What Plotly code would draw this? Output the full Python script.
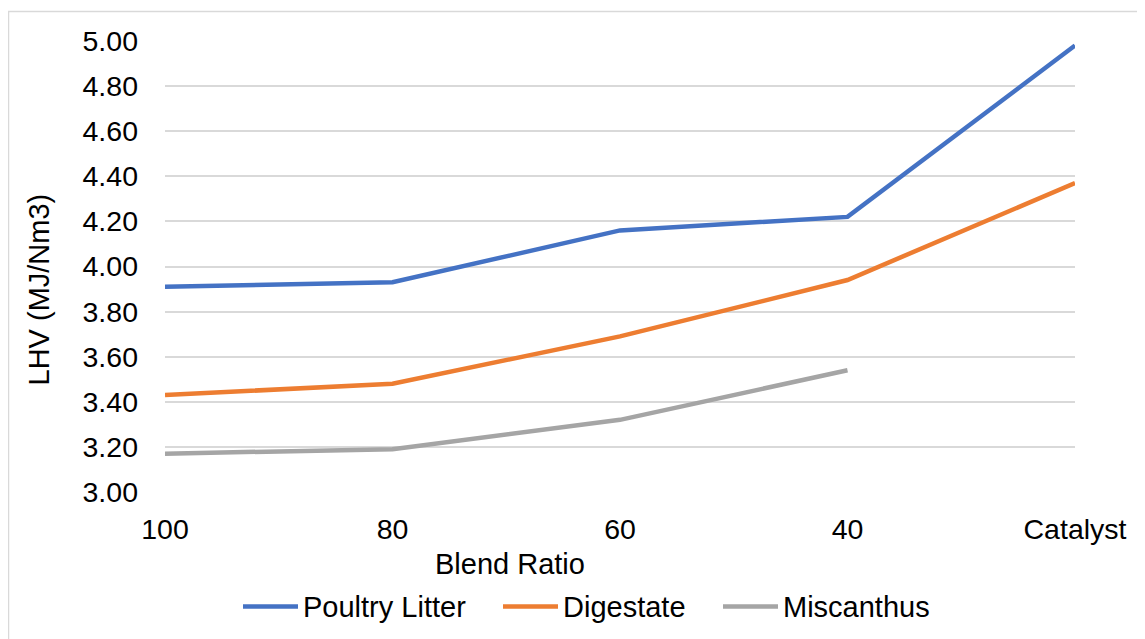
import plotly.graph_objects as go

categories = ["100", "80", "60", "40", "Catalyst"]
poultry_litter = [3.91, 3.93, 4.16, 4.22, 4.98]
digestate = [3.43, 3.48, 3.69, 3.94, 4.37]
miscanthus = [3.17, 3.19, 3.32, 3.54, None]

series = [
    ("Poultry Litter", poultry_litter, "#4472C4"),
    ("Digestate", digestate, "#ED7D31"),
    ("Miscanthus", miscanthus, "#A5A5A5"),
]

# page body has an 8px margin; figure sized to fit the window
OFF = 8
W, H = 1145 - OFF, 639 - OFF
# plot-area edges in screenshot pixels
L, R, T, B = 165, 1075, 41, 492
pw, ph = R - L, B - T

def px_x(p):
    return (p - L) / pw

def px_y(p):
    return (B - p) / ph

FONT = "Arial, Liberation Sans, sans-serif"
TXT = "#000000"

fig = go.Figure()
for name, vals, col in series:
    fig.add_trace(go.Scatter(
        x=categories, y=vals, name=name, mode="lines",
        line=dict(color=col, width=4.5),
        connectgaps=False, showlegend=False,
    ))

shapes = [
    dict(type="rect", xref="paper", yref="paper",
         x0=px_x(OFF + 0.5), x1=px_x(1200), y0=px_y(11.5), y1=px_y(700),
         line=dict(color="#D9D9D9", width=1.5), fillcolor="rgba(0,0,0,0)",
         layer="below"),
]
annotations = [
    dict(text="Blend Ratio", xref="paper", yref="paper",
         x=px_x(510), y=px_y(564), xanchor="center", yanchor="middle",
         showarrow=False, font=dict(size=29, color=TXT)),
    dict(text="LHV (MJ/Nm3)", xref="paper", yref="paper",
         x=px_x(38.5), y=px_y(290), xanchor="center", yanchor="middle",
         textangle=-90, showarrow=False, font=dict(size=29, color=TXT)),
]

# custom legend (line sample + label)
legend_starts = [243, 503, 723]
legend_y = 606.5
for (name, _, col), x0 in zip(series, legend_starts):
    shapes.append(dict(type="line", xref="paper", yref="paper",
                       x0=px_x(x0), x1=px_x(x0 + 55),
                       y0=px_y(legend_y), y1=px_y(legend_y),
                       line=dict(color=col, width=4.5)))
    annotations.append(dict(text=name, xref="paper", yref="paper",
                            x=px_x(x0 + 58), y=px_y(legend_y),
                            xanchor="left", yanchor="middle",
                            showarrow=False, font=dict(size=29, color=TXT)))

fig.update_layout(
    width=W, height=H,
    margin=dict(l=L - OFF, r=W - (R - OFF), t=T - OFF, b=H - (B - OFF)),
    paper_bgcolor="white", plot_bgcolor="white",
    font=dict(family=FONT, size=28, color=TXT),
    showlegend=False,
    xaxis=dict(
        type="category", range=[0, 4], showgrid=False, zeroline=False,
        showline=False, ticks="", tickfont=dict(size=28.5, color=TXT),
        ticklabelstandoff=17,
    ),
    yaxis=dict(
        range=[3.0, 5.0], dtick=0.2, tick0=3.0, tickformat=".2f",
        showgrid=True, gridcolor="#D9D9D9", gridwidth=1.5,
        zeroline=False, showline=False, ticks="",
        tickfont=dict(size=28.5, color=TXT), ticklabelstandoff=26,
    ),
    annotations=annotations,
    shapes=shapes,
)

fig.write_html("out.html")
